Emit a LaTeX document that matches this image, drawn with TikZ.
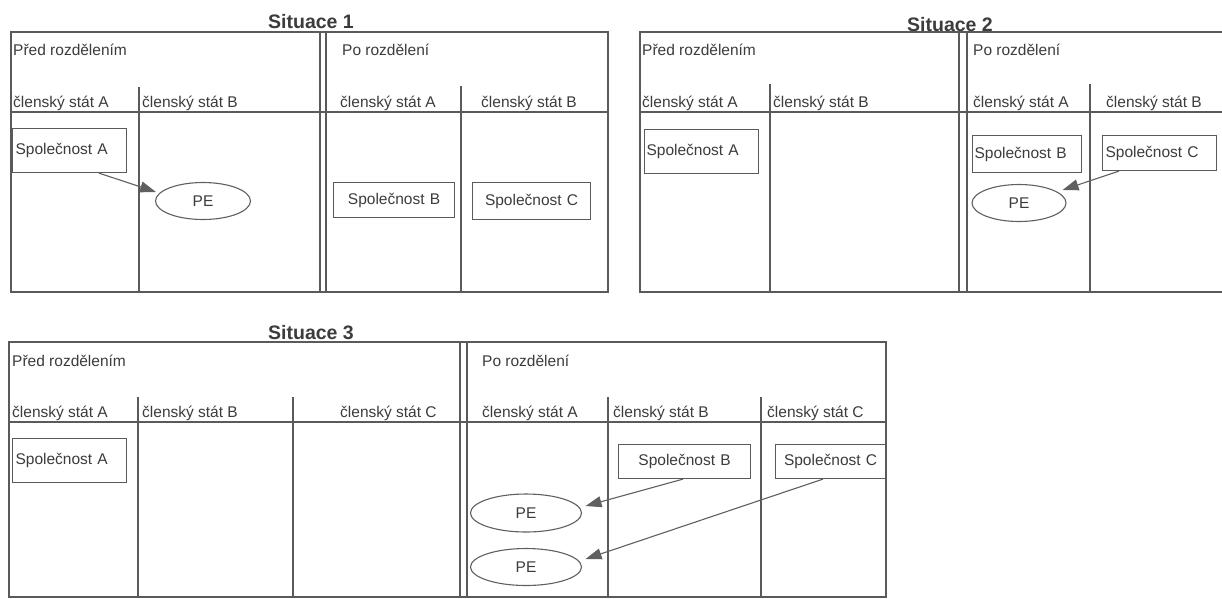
\documentclass[tikz,border=0pt]{standalone}
\usepackage{fontspec}
\setmainfont{Liberation Sans}
\usetikzlibrary{shapes.geometric,arrows.meta,calc}
\definecolor{linec}{HTML}{5A5A5A}
\definecolor{textc}{HTML}{3C3C3C}
\definecolor{arrc}{HTML}{606060}
\begin{document}
\begin{tikzpicture}[x=1pt,y=-1pt,
  frame/.style={draw=linec,line width=1.1pt},
  lbl/.style={font=\fontsize{15.5}{18}\selectfont,text=textc,inner sep=0pt,anchor=base west},
  ttl/.style={font=\bfseries\fontsize{19.5}{22}\selectfont,text=textc,inner sep=0pt,anchor=base},
  cbox/.style={draw=linec,line width=1.1pt,font=\fontsize{15.5}{18}\selectfont,text=textc,inner sep=3pt,anchor=north west},
  pe/.style={ellipse,draw=arrc,line width=1.1pt,font=\fontsize{15.5}{18}\selectfont,text=textc,inner sep=0pt},
  conn/.style={draw=arrc,line width=1.1pt,-{Triangle[length=16pt,width=11pt]}}]
\useasboundingbox[fill=white] (0,0) rectangle (1222,598);
% ---------- Situace 1 ----------
\node[ttl] (t1) at (311,28) {Situace 1};
\draw[frame] (11,32) rectangle (608,292);
\draw[frame] (320,32) -- (320,292) (326,32) -- (326,292);
\draw[frame] (11,112) -- (608,112);
\draw[frame] (139,87) -- (139,292) (461,86) -- (461,292);
\node[lbl] (s1pred) at (13,55) {Před rozdělením};
\node[lbl] (s1po) at (342,55) {Po rozdělení};
\node[lbl] (s1h1) at (13,107) {členský stát A};
\node[lbl] (s1h2) at (142,107) {členský stát B};
\node[lbl] (s1h3) at (340,107) {členský stát A};
\node[lbl] (s1h4) at (481,107) {členský stát B};
\node[cbox,minimum width=114pt,minimum height=44pt,text width=108pt,align=left] (s1a) at (12,128) {Společnost A};
\node[pe,minimum width=95pt,minimum height=37pt] (s1pe) at (203,201) {PE};
\node[cbox,minimum width=121pt,minimum height=35pt,text width=115pt,align=center] (s1b) at (333,182) {Společnost B};
\node[cbox,minimum width=118pt,minimum height=37pt,text width=112pt,align=center] (s1c) at (472,182) {Společnost C};
\draw[conn] ($(s1a.south west)+(87,0)$) -- ($(s1pe.west)+(1,-9)$);
% ---------- Situace 2 ----------
\node[ttl] (t2) at (950,31) {Situace 2};
\draw[frame] (1222,32) -- (640,32) -- (640,292) -- (1222,292);
\draw[frame] (959,32) -- (959,292) (967,32) -- (967,292);
\draw[frame] (640,112) -- (1222,112);
\draw[frame] (770,84) -- (770,292) (1090,84) -- (1090,292);
\node[lbl] (s2pred) at (642,55) {Před rozdělením};
\node[lbl] (s2po) at (973,55) {Po rozdělení};
\node[lbl] (s2h1) at (642,107) {členský stát A};
\node[lbl] (s2h2) at (773,107) {členský stát B};
\node[lbl] (s2h3) at (973,107) {členský stát A};
\node[lbl] (s2h4) at (1106,107) {členský stát B};
\node[cbox,minimum width=114pt,minimum height=44pt,text width=110pt,inner sep=2pt,align=left] (s2a) at (644,129) {Společnost A};
\node[cbox,minimum width=109pt,minimum height=37pt,text width=105pt,inner sep=2pt,align=left] (s2b) at (972,135) {Společnost B};
\node[cbox,minimum width=114pt,minimum height=35pt,text width=108pt,align=left] (s2c) at (1102,135) {Společnost C};
\node[pe,minimum width=94pt,minimum height=37pt] (s2pe) at (1019,203) {PE};
\draw[conn] ($(s2c.south west)+(17,0)$) -- ($(s2pe.east)+(-4,-13)$);
% ---------- Situace 3 ----------
\node[ttl] (t3) at (311,339) {Situace 3};
\draw[frame] (9,342) rectangle (886,597);
\draw[frame] (460,342) -- (460,597) (467,342) -- (467,597);
\draw[frame] (9,422) -- (886,422);
\draw[frame] (138,397) -- (138,597) (293,397) -- (293,597) (608,397) -- (608,597) (761,397) -- (761,597);
\node[lbl] (s3pred) at (12,366) {Před rozdělením};
\node[lbl] (s3po) at (482,366) {Po rozdělení};
\node[lbl] (s3h1) at (12,417) {členský stát A};
\node[lbl] (s3h2) at (142,417) {členský stát B};
\node[lbl] (s3h3) at (340,417) {členský stát C};
\node[lbl] (s3h4) at (482,417) {členský stát A};
\node[lbl] (s3h5) at (613,417) {členský stát B};
\node[lbl] (s3h6) at (767,417) {členský stát C};
\node[cbox,minimum width=114pt,minimum height=44pt,text width=108pt,align=left] (s3a) at (12,438) {Společnost A};
\node[cbox,minimum width=132pt,minimum height=34pt,text width=126pt,align=center] (s3b) at (618,444) {Společnost B};
\node[cbox,minimum width=110pt,minimum height=34pt,text width=104pt,align=center] (s3c) at (775,444) {Společnost C};
\node[pe,minimum width=111pt,minimum height=38pt] (s3pe1) at (526,513) {PE};
\node[pe,minimum width=111pt,minimum height=37pt] (s3pe2) at (526,567) {PE};
\draw[conn] ($(s3b.south west)+(65,0)$) -- ($(s3pe1.east)+(3.5,-7)$);
\draw[conn] ($(s3c.south west)+(48,0)$) -- ($(s3pe2.east)+(3.5,-8)$);
\end{tikzpicture}
\end{document}
